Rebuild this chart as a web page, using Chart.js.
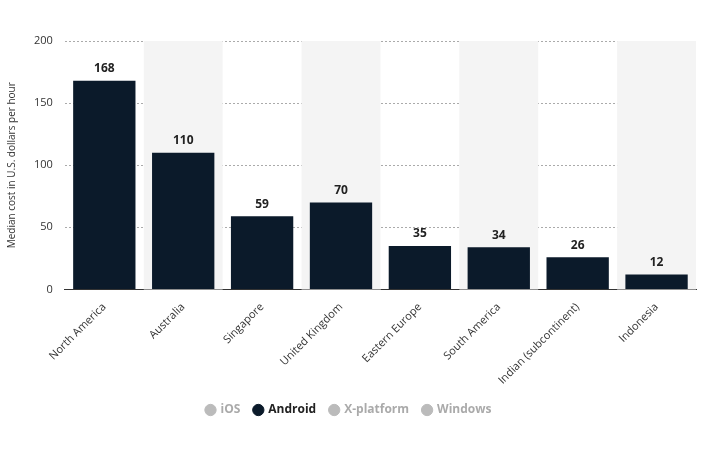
<!DOCTYPE html>
<html><head><meta charset="utf-8">
<script src="https://cdn.jsdelivr.net/npm/chart.js@4/dist/chart.umd.min.js"></script>
<style>body{margin:0;background:#fff}#wrap{width:704px;height:454px}</style>
</head><body><div id="wrap"><canvas id="c"></canvas></div>
<script>
const regions = ['North America','Australia','Singapore','United Kingdom','Eastern Europe','South America','Indian (subcontinent)','Indonesia'];
const androidCost = [168,110,59,70,35,34,26,12];
const seriesNames = ['iOS','Android','X-platform','Windows'];
const yTicks = [0,50,100,150,200];

// alternating grey bands behind categories
const bands = {
  id: 'bands',
  beforeDatasetsDraw(chart) {
    const {ctx, chartArea: a, scales: {x}} = chart;
    const w = x.getPixelForValue(1) - x.getPixelForValue(0);
    ctx.save();
    ctx.fillStyle = '#f4f4f4';
    regions.forEach((r, i) => {
      if (i % 2 === 1) ctx.fillRect(x.getPixelForValue(i) - w / 2, a.top, w, a.bottom - a.top);
    });
    ctx.restore();
  }
};
const valueLabels = {
  id: 'valueLabels',
  afterDatasetsDraw(chart) {
    const {ctx} = chart;
    const meta = chart.getDatasetMeta(1);
    ctx.save();
    ctx.font = 'bold 12px "Open Sans"';
    ctx.fillStyle = '#222';
    ctx.textAlign = 'center';
    meta.data.forEach((bar, i) => ctx.fillText(androidCost[i], bar.x, bar.y - 12));
    ctx.restore();
  }
};
// extra gap between axis labels and legend
const legendGap = {
  id: 'legendGap',
  beforeInit(chart) {
    const fit = chart.legend.fit;
    chart.legend.fit = function () { fit.bind(chart.legend)(); this.height += 22; };
  }
};

new Chart(document.getElementById('c'), {
  type: 'bar',
  data: {
    labels: regions,
    datasets: seriesNames.map((name, i) => ({
      label: name,
      data: i === 1 ? androidCost : regions.map(() => 0),
      hidden: i !== 1,
      backgroundColor: '#0b1a2a',
      barPercentage: 0.79,
      categoryPercentage: 1
    }))
  },
  options: {
    responsive: true,
    maintainAspectRatio: false,
    animation: false,
    layout: { padding: { top: 41, right: 8, left: 2, bottom: 6 } },
    plugins: {
      tooltip: { enabled: false },
      legend: {
        position: 'bottom',
        align: 'center',
        labels: {
          usePointStyle: true,
          pointStyle: 'circle',
          boxWidth: 8, boxHeight: 8,
          padding: 14,
          font: { family: 'Open Sans', size: 12, weight: 'bold' },
          generateLabels(chart) {
            return chart.data.datasets.map((d, i) => ({
              text: d.label,
              fillStyle: i === 1 ? '#0b1a2a' : '#bbbbbb',
              strokeStyle: i === 1 ? '#0b1a2a' : '#bbbbbb',
              fontColor: i === 1 ? '#222' : '#aaaaaa',
              pointStyle: 'circle',
              hidden: false,
              datasetIndex: i
            }));
          }
        }
      }
    },
    scales: {
      x: {
        grid: { display: false },
        border: { color: '#333' },
        ticks: { color: '#333', font: { family: 'Open Sans', size: 11 }, maxRotation: 45, minRotation: 45, autoSkip: false }
      },
      y: {
        min: 0, max: 200,
        afterBuildTicks(s) { s.ticks = yTicks.map(v => ({ value: v })); },
        border: { display: false, dash: [2, 2] },
        grid: { color: '#aaaaaa', drawTicks: false },
        ticks: { color: '#333', padding: 12, font: { family: 'Open Sans', size: 11 } },
        title: { display: true, text: 'Median cost in U.S. dollars per hour', color: '#333', font: { family: 'Open Sans', size: 10 } }
      }
    }
  },
  plugins: [bands, valueLabels, legendGap]
});
</script></body></html>
